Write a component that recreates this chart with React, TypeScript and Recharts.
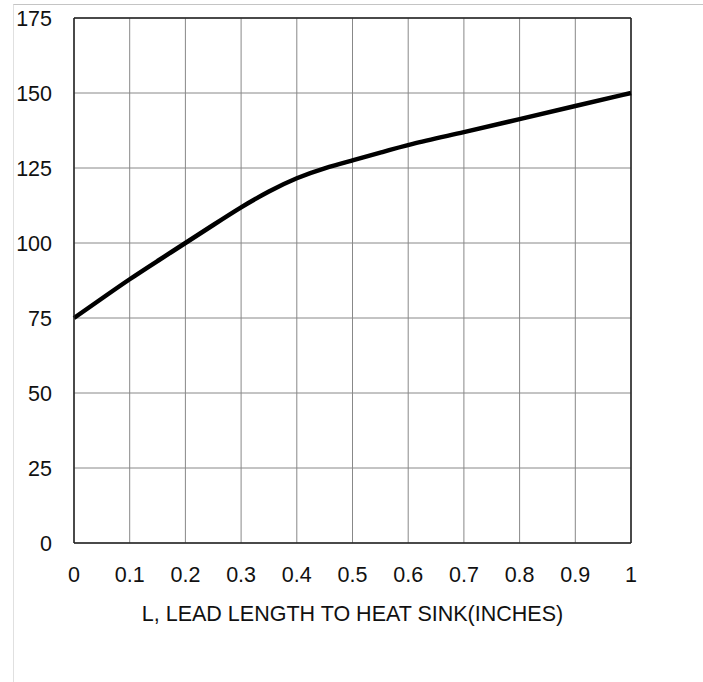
import React from "react";
import {
  LineChart,
  Line,
  XAxis,
  YAxis,
  CartesianGrid,
  ReferenceLine,
  Label
} from "recharts";

// lead length (inches) and value
const leadLength = [0, 0.05, 0.1, 0.15, 0.2, 0.25, 0.3, 0.35, 0.4, 0.45, 0.5, 0.55, 0.6, 0.7, 0.8, 0.9, 1];
const curveValues = [75, 81.5, 88, 94, 100, 106, 112, 117.3, 121.8, 125, 127.5, 130.1, 132.8, 136.9, 141.3, 145.7, 150];

const xTicks = [0, 0.1, 0.2, 0.3, 0.4, 0.5, 0.6, 0.7, 0.8, 0.9, 1];
const yTicks = [0, 25, 50, 75, 100, 125, 150, 175];

const data = leadLength.map((x, i) => ({ x, y: curveValues[i] }));

const FONT = '"Liberation Sans", Arial, sans-serif';
const tickStyle = { fontSize: 21.5, fill: "#111", fontFamily: FONT };

const fmtX = (v: number) => (v === 0 || v === 1 ? String(v) : v.toFixed(1));

export default function App() {
  return (
    <div style={{ position: "relative", width: 680, height: 680, marginTop: -8 }}>
      <LineChart
        width={680}
        height={670}
        data={data}
        margin={{ top: 18, right: 57, left: 6, bottom: 37 }}
        style={{ overflow: "visible" }}
      >
        <CartesianGrid stroke="#888" strokeWidth={1} verticalValues={xTicks} horizontalValues={yTicks} />
        <XAxis
          type="number"
          dataKey="x"
          domain={[0, 1]}
          ticks={xTicks}
          tickFormatter={fmtX}
          tickSize={0}
          tickMargin={24}
          height={90}
          axisLine={{ stroke: "#222", strokeWidth: 1.5 }}
          tick={tickStyle}
          interval={0}
        >
          <Label
            value="L, LEAD LENGTH TO HEAT SINK(INCHES)"
            position="insideTop"
            offset={63}
            style={{ fontSize: 21.5, fill: "#111", fontFamily: FONT }}
          />
        </XAxis>
        <YAxis
          type="number"
          domain={[0, 175]}
          ticks={yTicks}
          width={60}
          tickSize={0}
          tickMargin={22}
          axisLine={{ stroke: "#222", strokeWidth: 1.5 }}
          tick={tickStyle}
          interval={0}
        />
        <ReferenceLine y={175} stroke="#222" strokeWidth={1.5} />
        <ReferenceLine x={1} stroke="#222" strokeWidth={1.5} />
        <Line
          type="basis"
          dataKey="y"
          stroke="#000"
          strokeWidth={4.5}
          dot={false}
          isAnimationActive={false}
        />
      </LineChart>
      {/* faint frame round the figure, drawn on top */}
      <div
        style={{
          position: "fixed",
          top: 4,
          left: 13,
          width: 700,
          height: 690,
          borderTop: "1px solid #c4c4c4",
          borderLeft: "1px solid #e0e0e0",
          pointerEvents: "none"
        }}
      />
    </div>
  );
}
